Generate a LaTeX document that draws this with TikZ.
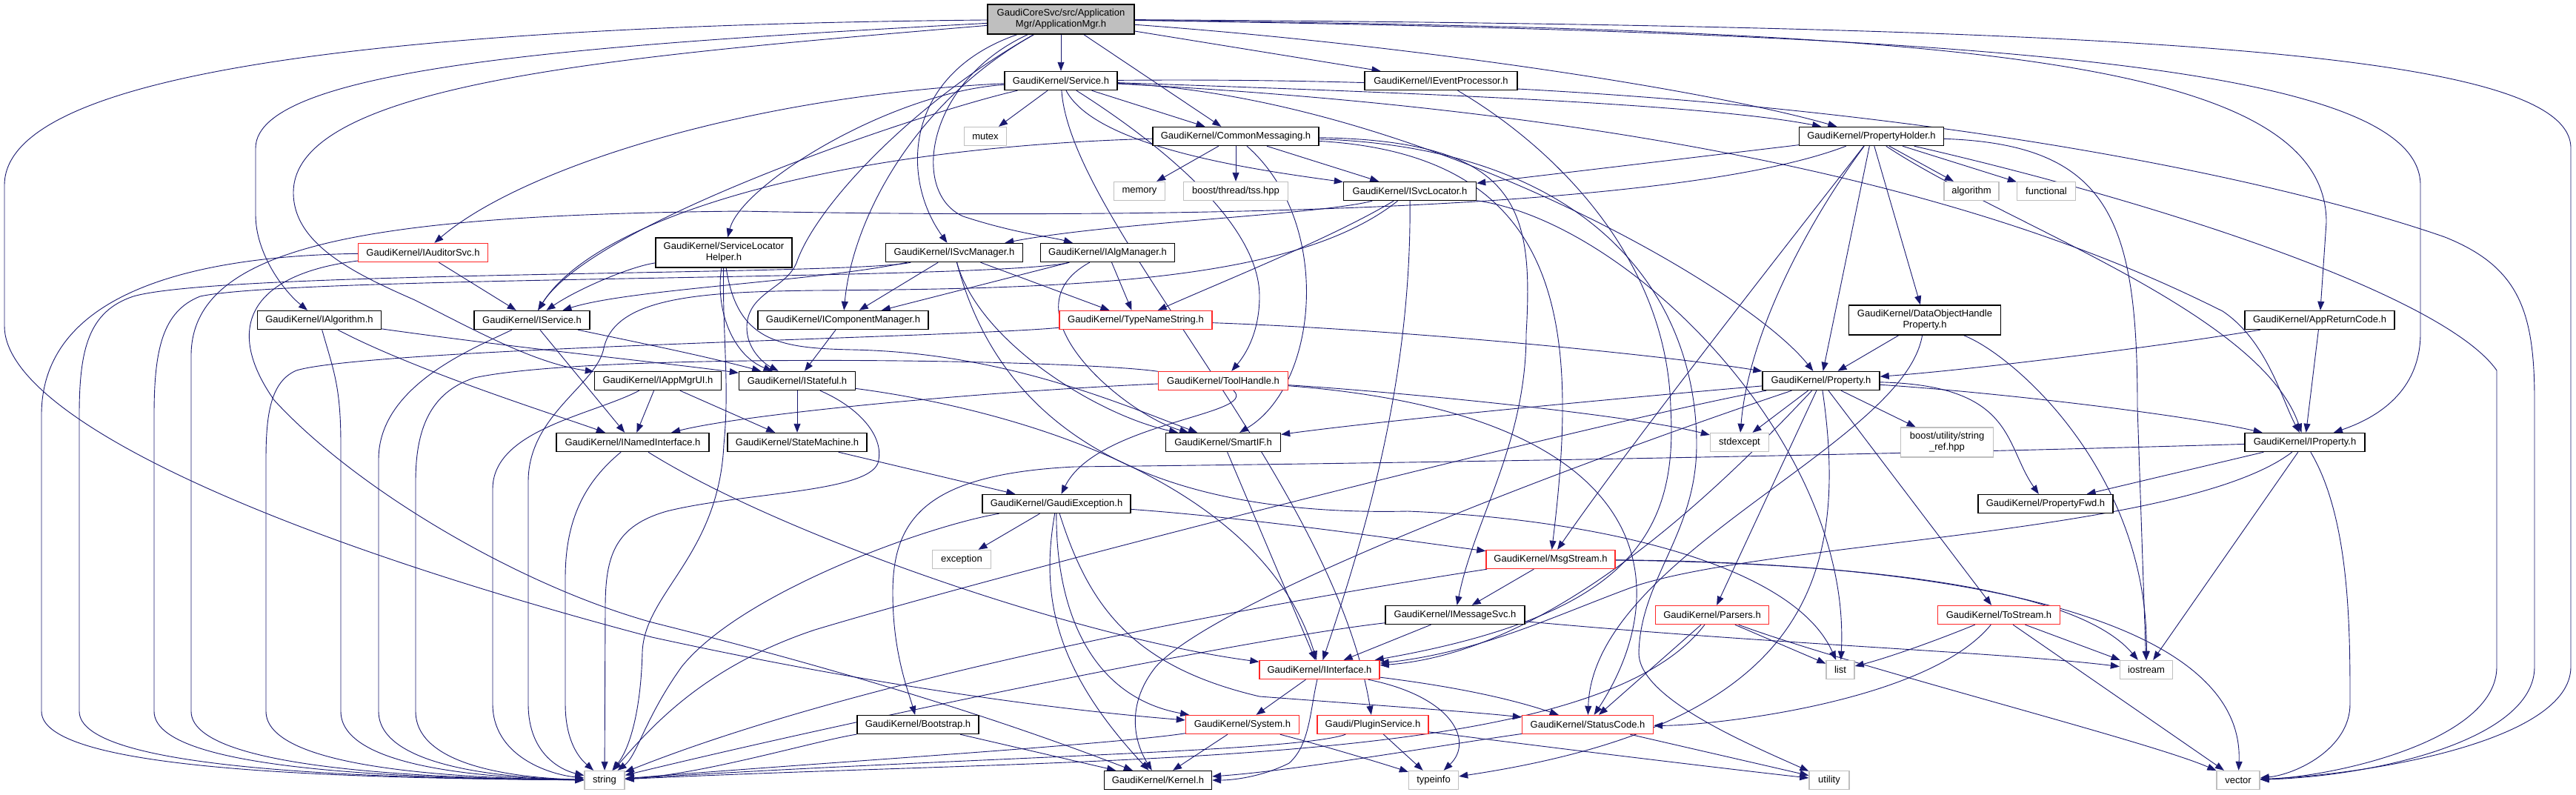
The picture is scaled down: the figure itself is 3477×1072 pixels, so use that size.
\documentclass[tikz,border=0pt]{standalone}
\usepackage{fontspec}
\setmainfont{Liberation Sans}
\usetikzlibrary{arrows.meta}
\definecolor{edgec}{RGB}{25,25,112}
\definecolor{redb}{RGB}{255,40,40}
\definecolor{grayb}{RGB}{191,191,191}
\definecolor{rootf}{RGB}{191,191,191}
\pgfdeclarelayer{back}
\pgfdeclarelayer{bg}
\pgfsetlayers{back,bg,main}
\begin{document}
\begin{tikzpicture}[x=1pt,y=-1pt,
  box/.style={draw=black, line width=1.4pt, fill=white, inner sep=0pt, minimum height=25pt, font=\fontsize{13}{15}\selectfont, align=center},
  bred/.style={box, draw=redb},
  bgray/.style={box, draw=grayb},
  broot/.style={box, fill=rootf, minimum height=40pt},
  e/.style={draw=edgec, line width=0.9pt, -{Triangle[length=12pt,width=9pt]}}]
\begin{pgfonlayer}{back}
\fill[white] (0,0) rectangle (3477,1072);
\end{pgfonlayer}
\useasboundingbox (0,0) rectangle (3477,1072);
% nodes
\node[broot, minimum width=198pt] (AM) at (1432,26) {GaudiCoreSvc/src/Application\\Mgr/ApplicationMgr.h};
\node[box, minimum width=152pt] (Svc) at (1432,109) {GaudiKernel/Service.h};
\node[box, minimum width=206pt] (IEP) at (1945,109) {GaudiKernel/IEventProcessor.h};
\node[bgray, minimum width=57pt] (mutex) at (1330,184) {mutex};
\node[box, minimum width=224pt] (CM) at (1668,184) {GaudiKernel/CommonMessaging.h};
\node[box, minimum width=195pt] (PH) at (2526,184) {GaudiKernel/PropertyHolder.h};
\node[bgray, minimum width=69pt] (memory) at (1538,258) {memory};
\node[bgray, minimum width=141pt] (tss) at (1668,258) {boost/thread/tss.hpp};
\node[box, minimum width=179pt] (ISL) at (1903,258) {GaudiKernel/ISvcLocator.h};
\node[bgray, minimum width=74pt] (algorithm) at (2661,258) {algorithm};
\node[bgray, minimum width=79pt] (functional) at (2762,258) {functional};
\node[bred, minimum width=175pt] (IAud) at (571,341) {GaudiKernel/IAuditorSvc.h};
\node[box, minimum width=184pt, minimum height=40pt] (SLH) at (977,341) {GaudiKernel/ServiceLocator\\Helper.h};
\node[box, minimum width=185pt] (ISM) at (1288,341) {GaudiKernel/ISvcManager.h};
\node[box, minimum width=181pt] (IAM) at (1495,341) {GaudiKernel/IAlgManager.h};
\node[box, minimum width=205pt, minimum height=40pt] (DOHP) at (2598,432) {GaudiKernel/DataObjectHandle\\Property.h};
\node[box, minimum width=202pt] (ARC) at (3131,432) {GaudiKernel/AppReturnCode.h};
\node[box, minimum width=167pt] (IAlg) at (431,432) {GaudiKernel/IAlgorithm.h};
\node[box, minimum width=156pt] (ISvc) at (718,432) {GaudiKernel/IService.h};
\node[box, minimum width=230pt] (ICM) at (1138,432) {GaudiKernel/IComponentManager.h};
\node[bred, minimum width=206pt] (TNS) at (1533,432) {GaudiKernel/TypeNameString.h};
\node[box, minimum width=171pt] (IAMUI) at (888,514) {GaudiKernel/IAppMgrUI.h};
\node[box, minimum width=157pt] (IStat) at (1076,514) {GaudiKernel/IStateful.h};
\node[bred, minimum width=175pt] (TH) at (1651,514) {GaudiKernel/ToolHandle.h};
\node[box, minimum width=158pt] (Prop) at (2458,514) {GaudiKernel/Property.h};
\node[box, minimum width=206pt] (INI) at (854,597) {GaudiKernel/INamedInterface.h};
\node[box, minimum width=188pt] (SM) at (1076,597) {GaudiKernel/StateMachine.h};
\node[box, minimum width=155pt] (SIF) at (1651,597) {GaudiKernel/SmartIF.h};
\node[bgray, minimum width=79pt] (stdexcept) at (2348,597) {stdexcept};
\node[bgray, minimum width=125pt, minimum height=40pt] (bsr) at (2628,597) {boost/utility/string\\\_ref.hpp};
\node[box, minimum width=162pt] (IProp) at (3111,597) {GaudiKernel/IProperty.h};
\node[box, minimum width=200pt] (GE) at (1426,680) {GaudiKernel/GaudiException.h};
\node[box, minimum width=182pt] (PFwd) at (2761,680) {GaudiKernel/PropertyFwd.h};
\node[bgray, minimum width=79pt] (exception) at (1298,755) {exception};
\node[bred, minimum width=174pt] (MS) at (2093,755) {GaudiKernel/MsgStream.h};
\node[box, minimum width=188pt] (IMS) at (1964,830) {GaudiKernel/IMessageSvc.h};
\node[bred, minimum width=153pt] (Pars) at (2311,830) {GaudiKernel/Parsers.h};
\node[bred, minimum width=165pt] (TS) at (2698,830) {GaudiKernel/ToStream.h};
\node[bred, minimum width=162pt] (II) at (1781,904) {GaudiKernel/IInterface.h};
\node[bgray, minimum width=38pt] (list) at (2484,904) {list};
\node[bgray, minimum width=71pt] (iostream) at (2897,904) {iostream};
\node[box, minimum width=164pt] (Boot) at (1239,978) {GaudiKernel/Bootstrap.h};
\node[bred, minimum width=153pt] (Sys) at (1677,978) {GaudiKernel/System.h};
\node[bred, minimum width=150pt] (PS) at (1853,978) {Gaudi/PluginService.h};
\node[bred, minimum width=177pt] (SC) at (2143,978) {GaudiKernel/StatusCode.h};
\node[bgray, minimum width=54pt] (string) at (816,1053) {string};
\node[box, minimum width=145pt] (Kern) at (1563,1053) {GaudiKernel/Kernel.h};
\node[bgray, minimum width=67pt] (typeinfo) at (1935,1053) {typeinfo};
\node[bgray, minimum width=54pt] (utility) at (2469,1053) {utility};
\node[bgray, minimum width=58pt] (vector) at (3021,1053) {vector};
\begin{pgfonlayer}{bg}
% AM
\draw[e] (AM) -- (Svc);
\draw[e] (AM) -- (IEP);
\draw[e] (AM) -- (CM);
\draw[e] (AM) .. controls (1900,60) and (2300,120) .. (PH);
\draw[e] (AM) .. controls (2600,40) and (3140,70) .. (3140,300) -- (ARC);
\draw[e] (AM) .. controls (2700,45) and (3267,90) .. (3267,250) -- (3267,450) .. controls (3267,520) and (3220,560) .. (IProp);
\draw[e] (AM) .. controls (2900,35) and (3470,70) .. (3470,200) -- (3470,900) .. controls (3470,1000) and (3200,1045) .. (vector);
\draw[e] (AM) .. controls (800,60) and (345,90) .. (345,200) -- (345,290) .. controls (345,340) and (380,390) .. (IAlg);
\draw[e] (AM) .. controls (850,75) and (396,110) .. (396,260) .. controls (396,330) and (480,370) .. (560,405) .. controls (640,445) and (720,490) .. (IAMUI);
\draw[e] (AM) .. controls (500,35) and (6,100) .. (6,250) -- (6,440) .. controls (6,560) and (350,720) .. (880,860) .. controls (1200,930) and (1450,960) .. (Sys);
\draw[e] (AM) .. controls (1230,140) and (1100,280) .. (1075,355) .. controls (1060,390) and (1010,395) .. (1008,440) .. controls (1007,470) and (1030,490) .. (IStat);
\draw[e] (AM) .. controls (1220,100) and (1215,240) .. (ISM);
\draw[e] (AM) .. controls (1250,110) and (1228,260) .. (1300,292) .. controls (1370,315) and (1420,320) .. (IAM);
\draw[e] (AM) .. controls (1230,140) and (1150,300) .. (ICM);
% Svc
\draw[e] (Svc) -- (mutex);
\draw[e] (Svc) -- (CM);
\draw[e] (Svc) .. controls (1900,125) and (2300,140) .. (PH);
\draw[e] (Svc) .. controls (1480,200) and (1700,230) .. (ISL);
\draw[e] (Svc) .. controls (1000,130) and (700,230) .. (IAud);
\draw[e] (Svc) .. controls (1200,125) and (1000,250) .. (SLH);
\draw[e] (Svc) .. controls (1250,150) and (800,300) .. (ISvc);
\draw[e] (Svc) .. controls (1560,190) and (1700,300) .. (1700,400) .. controls (1700,450) and (1680,480) .. (TH);
\draw[e] (Svc) .. controls (1445,300) and (1800,650) .. (PS);
\draw[e] (Svc) .. controls (1900,130) and (2350,380) .. (Prop);
\draw[e] (Svc) .. controls (2500,100) and (3100,250) .. (3300,320) .. controls (3400,360) and (3421,420) .. (3421,540) -- (3421,900) .. controls (3421,1000) and (3200,1048) .. (vector);
\draw[e] (Svc) .. controls (2400,160) and (2800,320) .. (3000,420) .. controls (3060,460) and (3080,540) .. (IProp);
% IEP
\draw[e] (IEP) .. controls (2100,200) and (2250,350) .. (2255,550) .. controls (2265,720) and (2200,830) .. (II);
% CM
\draw[e] (CM) -- (memory);
\draw[e] (CM) -- (tss);
\draw[e] (CM) -- (ISL);
\draw[e] (CM) .. controls (1100,200) and (800,300) .. (ISvc);
\draw[e] (CM) .. controls (2050,190) and (2070,280) .. (2060,450) .. controls (2060,600) and (1990,700) .. (IMS);
\draw[e] (CM) .. controls (2120,210) and (2130,450) .. (MS);
\draw[e] (CM) .. controls (1800,300) and (1780,520) .. (SIF);
\draw[e] (CM) .. controls (2150,200) and (2290,400) .. (2290,600) .. controls (2290,720) and (2215,780) .. (2212,880) .. controls (2210,940) and (2350,1000) .. (utility);
% PH
\draw[e] (PH) -- (algorithm);
\draw[e] (PH) -- (functional);
\draw[e] (PH) -- (DOHP);
\draw[e] (PH) -- (ISL);
\draw[e] (PH) -- (Prop);
\draw[e] (PH) .. controls (2440,300) and (2360,450) .. (stdexcept);
\draw[e] (PH) .. controls (2850,195) and (2885,300) .. (2885,550) -- (iostream);
\draw[e] (PH) .. controls (2923,275) and (3300,400) .. (3370,500) -- (3370,900) .. controls (3370,1000) and (3150,1048) .. (vector);
\draw[e] (PH) .. controls (2700,300) and (3050,420) .. (IProp);
\draw[e] (PH) .. controls (2250,290) and (1500,295) .. (1000,285) .. controls (500,290) and (258,330) .. (258,480) -- (258,960) .. controls (258,1035) and (550,1050) .. (string);
\draw[e] (PH) .. controls (2420,320) and (2200,600) .. (MS);
% DOHP
\draw[e] (DOHP) -- (Prop);
\draw[e] (DOHP) .. controls (2570,600) and (2150,750) .. (SC);
\draw[e] (DOHP) .. controls (2720,480) and (2900,640) .. (iostream);
% ARC
\draw[e] (ARC) .. controls (2900,470) and (2650,500) .. (Prop);
\draw[e] (ARC) -- (IProp);
% IAlg
\draw[e] (IAlg) .. controls (700,470) and (900,490) .. (IStat);
\draw[e] (IAlg) .. controls (560,500) and (750,560) .. (INI);
\draw[e] (IAlg) .. controls (450,500) and (460,520) .. (460,600) -- (460,960) .. controls (460,1035) and (650,1050) .. (string);
% ISvc
\draw[e] (ISvc) -- (INI);
\draw[e] (ISvc) .. controls (850,460) and (950,480) .. (IStat);
\draw[e] (ISvc) .. controls (640,470) and (511,520) .. (511,620) -- (511,960) .. controls (511,1035) and (680,1050) .. (string);
% IAud
\draw[e] (IAud) -- (ISvc);
\draw[e] (IAud) .. controls (300,345) and (56,380) .. (56,560) -- (56,960) .. controls (56,1035) and (400,1050) .. (string);
\draw[e] (IAud) .. controls (340,370) and (300,440) .. (370,540) .. controls (480,660) and (700,790) .. (880,840) .. controls (1200,920) and (1400,990) .. (Kern);
% SLH
\draw[e] (SLH) .. controls (850,360) and (780,390) .. (ISvc);
\draw[e] (SLH) .. controls (965,420) and (990,480) .. (IStat);
\draw[e] (SLH) .. controls (995,460) and (1050,470) .. (1150,472) .. controls (1350,476) and (1500,540) .. (SIF);
\draw[e] (SLH) .. controls (975,450) and (985,520) .. (977,600) .. controls (970,750) and (870,800) .. (867,880) .. controls (865,960) and (850,1010) .. (string);
% ISM
\draw[e] (ISM) -- (ICM);
\draw[e] (ISM) -- (TNS);
\draw[e] (ISM) .. controls (1320,460) and (1480,560) .. (SIF);
\draw[e] (ISM) .. controls (1100,380) and (850,390) .. (ISvc);
\draw[e] (ISM) .. controls (1150,372) and (300,365) .. (180,400) .. controls (120,420) and (107,470) .. (107,560) -- (107,960) .. controls (107,1035) and (450,1050) .. (string);
\draw[e] (ISM) .. controls (1330,500) and (1450,700) .. (1900,690) .. controls (2150,700) and (2420,760) .. (list);
% IAM
\draw[e] (IAM) -- (ICM);
\draw[e] (IAM) -- (TNS);
\draw[e] (IAM) .. controls (1350,420) and (1520,560) .. (SIF);
\draw[e] (IAM) .. controls (1350,378) and (400,372) .. (270,400) .. controls (220,420) and (208,470) .. (208,560) -- (208,960) .. controls (208,1035) and (500,1050) .. (string);
% ISL
\draw[e] (ISL) .. controls (1780,290) and (1500,300) .. (ISM);
\draw[e] (ISL) .. controls (1800,320) and (1650,380) .. (TNS);
\draw[e] (ISL) .. controls (1905,500) and (1850,700) .. (II);
\draw[e] (ISL) .. controls (2200,300) and (2500,600) .. (list);
\draw[e] (ISL) .. controls (1750,380) and (1450,390) .. (1100,392) .. controls (950,394) and (830,400) .. (815,470) .. controls (805,520) and (713,560) .. (713,650) -- (713,950) .. controls (713,1020) and (760,1040) .. (string);
% ICM
\draw[e] (ICM) -- (IStat);
% TNS
\draw[e] (TNS) .. controls (1900,445) and (2250,480) .. (Prop);
\draw[e] (TNS) .. controls (1300,455) and (500,470) .. (400,500) .. controls (365,515) and (359,560) .. (359,620) -- (359,960) .. controls (359,1035) and (600,1050) .. (string);
% IAMUI
\draw[e] (IAMUI) -- (INI);
\draw[e] (IAMUI) -- (SM);
\draw[e] (IAMUI) .. controls (800,560) and (665,580) .. (665,660) -- (665,950) .. controls (665,1020) and (740,1045) .. (string);
% IStat
\draw[e] (IStat) -- (SM);
\draw[e] (IStat) .. controls (1160,550) and (1195,590) .. (1185,625) .. controls (1170,665) and (1000,665) .. (900,690) .. controls (830,710) and (817,750) .. (817,820) -- (string);
\draw[e] (IStat) .. controls (1350,550) and (1700,640) .. (II);
% TH
\draw[e] (TH) .. controls (1300,530) and (1000,560) .. (INI);
\draw[e] (TH) .. controls (1900,530) and (2200,560) .. (stdexcept);
\draw[e] (TH) .. controls (1700,560) and (1480,570) .. (GE);
\draw[e] (TH) .. controls (2250,560) and (2260,800) .. (SC);
\draw[e] (TH) .. controls (1450,485) and (800,475) .. (640,510) .. controls (580,530) and (561,580) .. (561,650) -- (561,960) .. controls (561,1035) and (700,1050) .. (string);
% Prop
\draw[e] (Prop) -- (stdexcept);
\draw[e] (Prop) -- (bsr);
\draw[e] (Prop) -- (Pars);
\draw[e] (Prop) -- (TS);
\draw[e] (Prop) .. controls (2700,530) and (2950,560) .. (IProp);
\draw[e] (Prop) .. controls (2720,520) and (2705,600) .. (PFwd);
\draw[e] (Prop) .. controls (2100,545) and (1850,570) .. (SIF);
\draw[e] (Prop) .. controls (2500,800) and (2420,980) .. (typeinfo);
\draw[e] (Prop) .. controls (2200,600) and (1650,800) .. (1560,900) .. controls (1520,950) and (1530,1000) .. (Kern);
\draw[e] (Prop) .. controls (2330,650) and (2100,880) .. (II);
\draw[e] (Prop) .. controls (2200,560) and (1400,760) .. (1100,850) .. controls (950,900) and (880,980) .. (string);
% INI
\draw[e] (INI) .. controls (1050,720) and (1450,860) .. (II);
\draw[e] (INI) .. controls (790,650) and (763,700) .. (763,780) -- (763,950) .. controls (763,1010) and (790,1030) .. (string);
% SM, SIF
\draw[e] (SM) -- (GE);
\draw[e] (SIF) -- (II);
% IProp
\draw[e] (IProp) -- (PFwd);
\draw[e] (IProp) -- (iostream);
\draw[e] (IProp) .. controls (3172,700) and (3172,850) .. (3172,950) .. controls (3172,1010) and (3100,1045) .. (vector);
\draw[e] (IProp) .. controls (2950,720) and (2400,730) .. (2210,790) .. controls (2100,830) and (2000,880) .. (II);
\draw[e] (IProp) .. controls (2500,615) and (1900,625) .. (1450,630) .. controls (1250,640) and (1205,700) .. (1205,800) .. controls (1205,880) and (1225,930) .. (Boot);
% GE
\draw[e] (GE) -- (exception);
\draw[e] (GE) .. controls (1405,800) and (1420,900) .. (Kern);
\draw[e] (GE) .. controls (1425,820) and (1470,940) .. (Sys);
\draw[e] (GE) .. controls (1470,820) and (1530,900) .. (1700,940) .. controls (1900,955) and (2000,962) .. (SC);
\draw[e] (GE) .. controls (1700,700) and (1900,730) .. (MS);
\draw[e] (GE) .. controls (1250,710) and (1000,800) .. (920,900) .. controls (870,970) and (860,1020) .. (string);
% MS
\draw[e] (MS) -- (IMS);
\draw[e] (MS) .. controls (1800,800) and (1200,900) .. (string);
\draw[e] (MS) .. controls (2500,760) and (2800,790) .. (iostream);
\draw[e] (MS) .. controls (2700,760) and (3030,850) .. (vector);
% IMS
\draw[e] (IMS) -- (II);
\draw[e] (IMS) .. controls (1700,860) and (1200,960) .. (string);
\draw[e] (IMS) .. controls (2400,870) and (2700,880) .. (iostream);
% Pars
\draw[e] (Pars) -- (list);
\draw[e] (Pars) -- (SC);
\draw[e] (Pars) .. controls (2500,900) and (2900,1000) .. (vector);
\draw[e] (Pars) .. controls (2150,1040) and (1500,1020) .. (string);
% TS
\draw[e] (TS) -- (iostream);
\draw[e] (TS) -- (vector);
\draw[e] (TS) .. controls (2600,870) and (2540,890) .. (list);
\draw[e] (TS) .. controls (2600,950) and (2300,980) .. (SC);
% II
\draw[e] (II) -- (Sys);
\draw[e] (II) .. controls (1950,925) and (2030,940) .. (SC);
\draw[e] (II) .. controls (1960,940) and (1990,1000) .. (typeinfo);
\draw[e] (II) .. controls (1768,960) and (1768,1005) .. (1740,1030) .. controls (1700,1050) and (1660,1053) .. (Kern);
% Boot, Sys, PS, SC
\draw[e] (Boot) -- (Kern);
\draw[e] (Boot) .. controls (1100,1000) and (950,1045) .. (string);
\draw[e] (Sys) -- (Kern);
\draw[e] (Sys) .. controls (1800,1010) and (1880,1035) .. (typeinfo);
\draw[e] (Sys) .. controls (1500,1005) and (1100,1030) .. (string);
\draw[e] (PS) -- (typeinfo);
\draw[e] (PS) .. controls (2100,1010) and (2350,1040) .. (utility);
\draw[e] (PS) .. controls (1750,1015) and (1300,1022) .. (string);
\draw[e] (SC) -- (utility);
\draw[e] (SC) .. controls (1950,1005) and (1750,1040) .. (Kern);
\end{pgfonlayer}
\end{tikzpicture}
\end{document}
